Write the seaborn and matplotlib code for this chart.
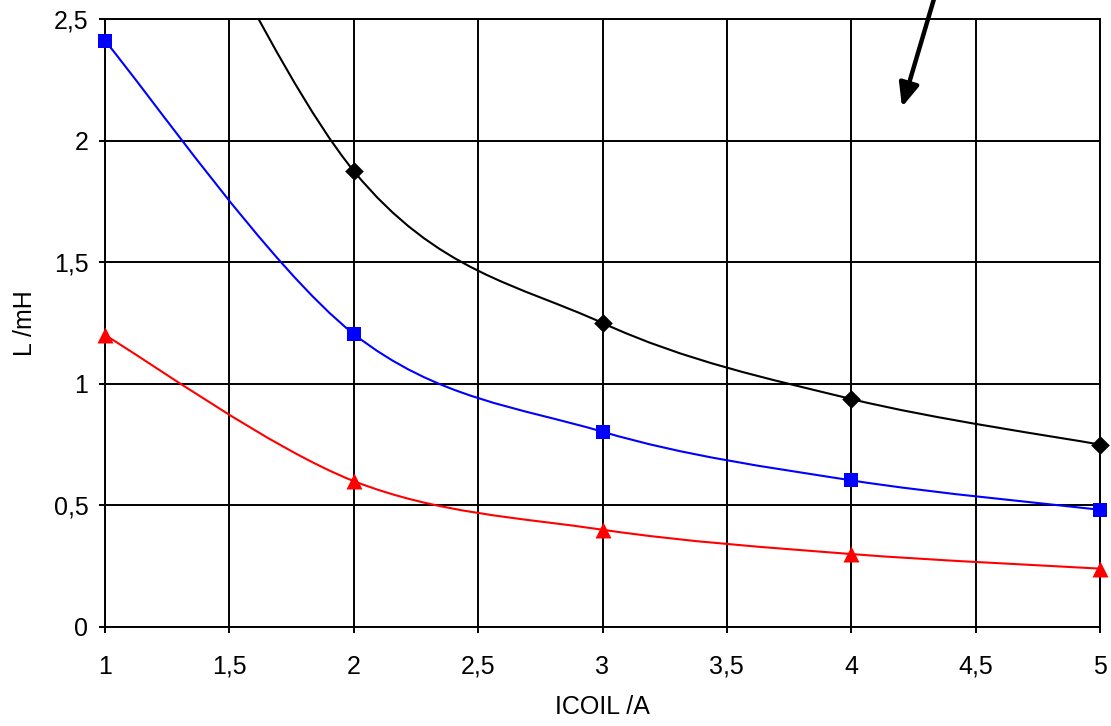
import matplotlib
matplotlib.use("Agg")
import matplotlib.pyplot as plt
import seaborn as sns
import numpy as np
import pandas as pd
from matplotlib.path import Path
from matplotlib.patches import PathPatch
from matplotlib.ticker import FuncFormatter, MultipleLocator

# ---- data ----
icoil = [1, 2, 3, 4, 5]
L_black = [3.75, 1.875, 1.25, 0.9375, 0.75]
L_blue = [2.41, 1.205, 0.803, 0.603, 0.482]
L_red = [1.2, 0.6, 0.4, 0.3, 0.24]
x_label = "ICOIL /A"
y_label = "L /mH"

sns.set_style("white")
plt.rcParams['font.family'] = ['Liberation Sans', 'DejaVu Sans']

fig = plt.figure(figsize=(11.11, 7.26), dpi=100)
ax = fig.add_axes([105/1111, 99/726, 995/1111, 608/726])


def smooth_path(xs, ys):
    """Excel-like smoothed line (Catmull-Rom converted to cubic Bezier)."""
    pts = np.column_stack([xs, ys]).astype(float)
    n = len(pts)
    verts = [pts[0]]
    codes = [Path.MOVETO]
    for i in range(n - 1):
        p0 = pts[i - 1] if i > 0 else pts[i]
        p1 = pts[i]
        p2 = pts[i + 1]
        p3 = pts[i + 2] if i + 2 < n else pts[i + 1]
        c1 = p1 + (p2 - p0) / 6.0
        c2 = p2 - (p3 - p1) / 6.0
        verts += [c1, c2, p2]
        codes += [Path.CURVE4] * 3
    return Path(verts, codes)


series = [
    (L_black, "black", "D", 9.5),
    (L_blue, "#0000FF", "s", 10.5),
    (L_red, "#FF0000", "^", 11.5),
]

for vals, col, mk, ms in series:
    ax.add_patch(PathPatch(smooth_path(icoil, vals), fill=False,
                           edgecolor=col, lw=1.5, zorder=3))
    df = pd.DataFrame({"I": icoil, "L": vals})
    df = df[df["L"] <= 2.5]
    sns.scatterplot(data=df, x="I", y="L", marker=mk, color=col, s=ms**2,
                    linewidth=0, ax=ax, zorder=4, clip_on=False)

ax.set_xlim(1, 5)
ax.set_ylim(0, 2.5)
ax.xaxis.set_major_locator(MultipleLocator(0.5))
ax.yaxis.set_major_locator(MultipleLocator(0.5))

fmt = FuncFormatter(lambda v, p: ("%g" % v).replace(".", ","))
ax.xaxis.set_major_formatter(fmt)
ax.yaxis.set_major_formatter(fmt)

ax.grid(True, color="black", lw=1.4)
ax.set_axisbelow(True)
for s in ax.spines.values():
    s.set_color("black")
    s.set_linewidth(1.4)
    s.set_visible(True)

ax.tick_params(axis="both", direction="out", length=4, width=1.4,
               color="black", labelsize=18, labelcolor="black",
               bottom=True, left=True)
ax.tick_params(axis="x", pad=16)
ax.tick_params(axis="y", pad=8)
ax.set_xlabel(x_label, fontsize=18, labelpad=12, color="black")
ax.set_ylabel(y_label, fontsize=18, labelpad=12, color="black")

# arrow at the top right
ax.annotate("", xy=(4.204, 2.138), xytext=(4.355, 2.66),
            xycoords="data", textcoords="data", annotation_clip=False,
            arrowprops=dict(arrowstyle="-|>,head_length=1.4,head_width=0.6",
                            color="black", lw=3.2, shrinkA=0, shrinkB=0))

fig.savefig("out.png", dpi=100)
